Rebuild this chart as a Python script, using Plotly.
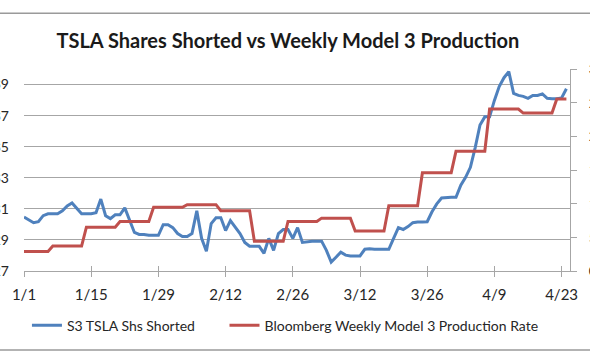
import datetime as dt
import plotly.graph_objects as go

# ---------------- data ----------------
start = dt.date(2018, 1, 1)
n_days = 114
dates = [start + dt.timedelta(days=i) for i in range(n_days)]

# S3 TSLA shares shorted (millions), daily
shorted = [
    30.47, 30.30, 30.11, 30.17, 30.56, 30.68, 30.68, 30.68, 30.87, 31.19,
    31.38, 31.00, 30.68, 30.68, 30.68, 30.75, 31.63, 30.56, 30.37, 30.62,
    30.62, 31.06, 30.24, 29.48, 29.35, 29.35, 29.30, 29.30, 29.30, 29.98,
    29.98, 29.79, 29.41, 29.22, 29.22, 29.41, 30.87, 29.10, 28.27, 30.05,
    30.43, 30.43, 29.60, 30.24, 29.86, 29.41, 28.84, 28.59, 28.59, 28.59,
    28.14, 29.10, 28.33, 29.41, 29.67, 29.67, 29.10, 29.79, 28.84, 28.90,
    28.92, 28.92, 28.92, 28.33, 27.57, 27.89, 28.21, 28.02, 27.97, 27.97,
    27.97, 28.40, 28.43, 28.40, 28.40, 28.40, 28.40, 29.10, 29.79, 29.67,
    29.86, 30.11, 30.16, 30.16, 30.17, 30.81, 31.32, 31.70, 31.74, 31.74,
    31.74, 32.52, 33.03, 33.67, 34.94, 36.40, 36.92, 36.92, 37.98, 38.87,
    39.44, 39.83, 38.43, 38.30, 38.24, 38.11, 38.30, 38.30, 38.40, 38.11,
    38.09, 38.09, 38.14, 38.73,
]

# Bloomberg weekly Model 3 production rate, held daily
production = [
    290, 290, 290, 290, 290, 290,
    370, 370, 370, 370, 370, 370, 370,
    650, 650, 650, 650, 650, 650, 650,
    735, 735, 735, 735, 735, 735, 735,
    945, 945, 945, 945, 945, 945, 945,
    985, 985, 985, 985, 985, 985, 985,
    895, 895, 895, 895, 895, 895, 895,
    440, 440, 440, 440, 440, 440, 440,
    735, 735, 735, 735, 735, 735, 735,
    785, 785, 785, 785, 785, 785, 785,
    595, 595, 595, 595, 595, 595, 595,
    970, 970, 970, 970, 970, 970, 970,
    1460, 1460, 1460, 1460, 1460, 1460, 1460,
    1780, 1780, 1780, 1780, 1780, 1780, 1780,
    2405, 2405, 2405, 2405, 2405, 2405, 2405,
    2345, 2345, 2345, 2345, 2345, 2345, 2345,
    2555, 2555, 2555,
]

x_tick_dates = [dt.date(2018, 1, 1), dt.date(2018, 1, 15), dt.date(2018, 1, 29),
                dt.date(2018, 2, 12), dt.date(2018, 2, 26), dt.date(2018, 3, 12),
                dt.date(2018, 3, 26), dt.date(2018, 4, 9), dt.date(2018, 4, 23)]
x_tick_labels = ["1/1", "1/15", "1/29", "2/12", "2/26", "3/12", "3/26", "4/9", "4/23"]
left_ticks = [27, 29, 31, 33, 35, 37, 39]
right_ticks = [0, 500, 1000, 1500, 2000, 2500, 3000]

series_names = ["S3 TSLA Shs Shorted", "Bloomberg Weekly Model 3 Production Rate"]

blue = "#4F81BD"
red = "#C0504D"
grid = "#A6A6A6"
font = "Lato"

fig = go.Figure()
fig.add_trace(go.Scatter(x=dates, y=shorted, mode="lines",
                         name=series_names[0] + "\u2003\u2003\u00a0",
                         line=dict(color=blue, width=3), xaxis="x", yaxis="y"))
fig.add_trace(go.Scatter(x=dates, y=production, mode="lines",
                         name=series_names[1],
                         line=dict(color=red, width=3), xaxis="x2", yaxis="y2"))

x_range = [dt.datetime(2018, 1, 1, 0, 0), dt.datetime(2018, 4, 24, 18, 0)]

fig.update_layout(
    width=590, height=354,
    margin=dict(l=20, r=16, t=69, b=82),
    paper_bgcolor="white", plot_bgcolor="white",
    font=dict(family=font, size=14, color="#262626"),
    title=dict(text="<b>TSLA Shares Shorted vs Weekly Model 3 Production</b>",
               x=0.488, xanchor="center", y=1 - 41 / 354, yanchor="middle",
               font=dict(family=font, size=20, color="#1a1a1a")),
    showlegend=True,
    legend=dict(orientation="h", x=0.0054, xanchor="left", y=-(327 - 272) / 203,
                yanchor="middle", itemwidth=30, tracegroupgap=0,
                font=dict(family=font, size=14, color="#262626")),
    xaxis=dict(range=x_range, tickvals=x_tick_dates, ticktext=x_tick_labels,
               showgrid=False, showline=True, linecolor=grid, linewidth=1,
               ticks="outside", ticklen=5, tickcolor=grid, zeroline=False,
               ticklabelstandoff=5, tickfont=dict(size=15)),
    xaxis2=dict(range=x_range, overlaying="x", matches="x", anchor="y2", side="bottom",
                tickvals=x_tick_dates, showticklabels=False, showgrid=False,
                showline=False, ticks="inside", ticklen=5, tickcolor=grid),
    yaxis=dict(range=[27, 40], tickvals=left_ticks, showgrid=True, gridcolor=grid,
               gridwidth=1, showline=False, zeroline=False, ticks="",
               ticklabelstandoff=14, automargin=False, tickfont=dict(size=14)),
    yaxis2=dict(range=[0, 3000], tickvals=right_ticks, overlaying="y", side="right",
                anchor="x2", showgrid=False, showline=True, linecolor=grid, zeroline=False,
                ticks="outside", ticklen=6, tickcolor=grid, automargin=False,
                ticklabelstandoff=9, tickfont=dict(size=14)),
)

# chart-area border lines (top and bottom of the cropped chart outline)
fig.add_shape(type="line", xref="paper", yref="paper", x0=-0.05, x1=1.05,
              y0=1 + (69 - 13) / 203, y1=1 + (69 - 13) / 203,
              line=dict(color="#9A9A9A", width=1.5))
fig.add_shape(type="line", xref="paper", yref="paper", x0=-0.05, x1=1.05,
              y0=-(351.5 - 272) / 203, y1=-(351.5 - 272) / 203,
              line=dict(color="#9A9A9A", width=1.5))

fig.write_html("out.html")
